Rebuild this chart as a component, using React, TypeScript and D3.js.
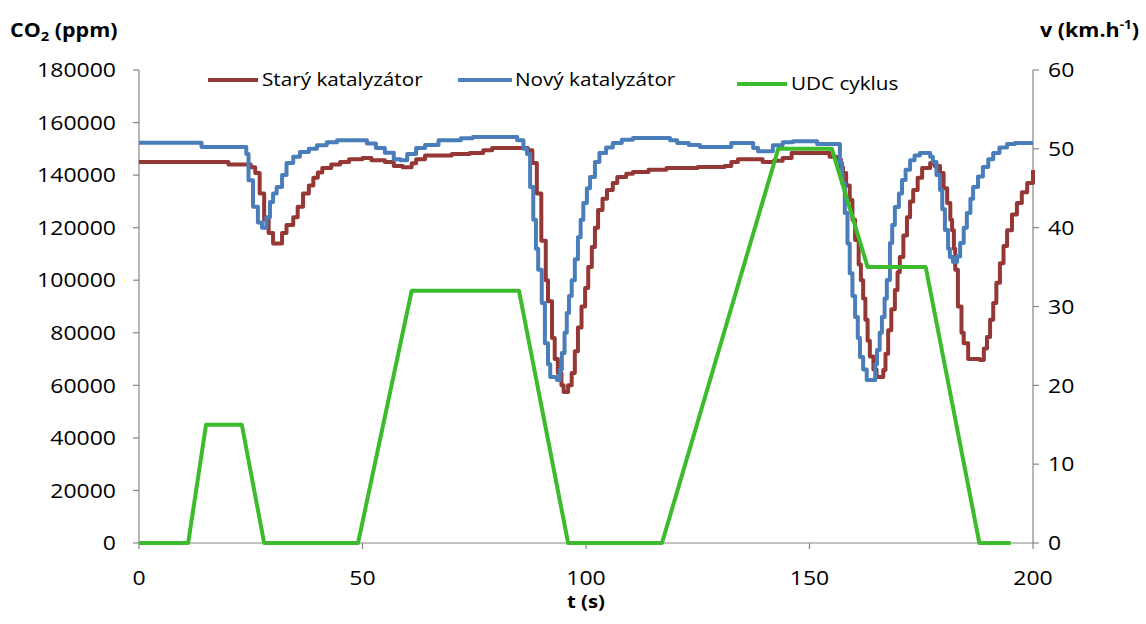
import React from "react";
import * as d3 from "d3";

// Starý katalyzátor (old catalyst), CO2 ppm
const oldT = [0, 20, 25, 26, 27, 28, 29, 30, 32, 33, 34.5, 35.5, 36.7, 38, 39, 40, 41, 43, 45, 47, 50, 52, 55, 57, 59, 61, 62, 64, 70, 74, 77, 79, 86, 87, 88, 89, 90, 91, 91.5, 92.4, 93, 93.7, 94.5, 95, 96, 96.8, 97.5, 98.2, 99, 99.8, 100.5, 101.3, 102, 102.7, 103.7, 104.7, 106, 107, 109, 110.5, 114, 118, 125, 131, 132.5, 134, 138.5, 139.5, 142, 144, 146, 152.5, 154.5, 156, 157, 157.5, 158.2, 159, 159.6, 160.2, 161, 161.5, 162, 162.5, 163, 163.5, 164.3, 165, 166.5, 167, 167.6, 168.3, 169.1, 169.7, 170.2, 171, 171.8, 172.5, 173.2, 174.2, 175.2, 177, 178, 179.2, 180, 180.8, 181.5, 181.9, 182.3, 182.6, 183.2, 184, 184.5, 185.5, 188.1, 189, 189.7, 190.4, 191.1, 191.8, 192.6, 193.4, 194.2, 195.3, 196.4, 197.5, 198.7, 200];
const oldV = [145000, 144000, 143000, 140800, 133000, 123000, 118000, 114000, 118000, 121000, 124000, 128000, 133000, 136000, 139000, 141000, 142700, 144000, 145000, 146000, 146500, 145700, 145000, 143500, 143000, 144500, 146000, 147500, 148000, 148400, 149500, 150300, 150300, 149500, 144600, 133000, 115000, 100000, 92000, 78000, 70000, 64700, 60000, 57500, 60000, 64700, 73000, 82000, 90000, 97000, 105000, 112600, 120000, 126700, 131000, 134300, 137000, 139300, 140500, 141200, 142000, 142700, 143100, 143500, 145000, 146000, 146000, 145000, 145500, 146500, 148400, 148400, 147000, 146000, 143000, 140800, 136000, 130500, 123000, 115300, 106000, 100000, 93000, 85000, 77000, 71000, 66000, 63200, 65800, 72000, 81000, 89000, 96300, 103000, 108800, 117000, 124000, 130000, 134300, 139000, 142700, 144600, 143500, 140800, 135000, 129400, 123000, 119000, 112000, 104000, 90000, 80000, 76000, 70000, 69600, 74000, 78400, 85000, 91300, 99000, 106500, 113000, 119000, 125000, 129400, 133500, 137000, 141900];

// Nový katalyzátor (new catalyst), CO2 ppm
const newT = [0, 14, 23.5, 24, 24.5, 25.5, 26.6, 27.5, 28.5, 29.3, 30, 30.8, 32, 33, 34.5, 36, 38, 39.8, 42, 44.3, 50, 51, 53, 55, 57, 58.5, 60, 62, 64, 67, 72, 74.7, 80, 84.6, 86, 86.8, 87.5, 88.2, 88.8, 89.3, 90.1, 90.8, 91.5, 92, 93.5, 94.2, 94.6, 95.2, 95.7, 96.2, 96.8, 97.5, 98.2, 98.8, 99.4, 100.2, 100.9, 102, 103, 104.5, 106, 108, 110.5, 116, 118.8, 120.4, 123, 125.5, 131, 132.5, 135.5, 137.4, 138.5, 140.5, 141.8, 144, 146.3, 150, 151.7, 156.4, 156.8, 157.3, 157.9, 158.5, 159, 159.6, 160.2, 160.8, 161.3, 162, 162.8, 164.2, 164.7, 165.1, 165.7, 166.2, 166.8, 167.3, 168, 168.5, 169.1, 170, 170.7, 171.5, 172.5, 173.5, 174.7, 176, 177, 177.6, 178.4, 179.2, 179.7, 180.3, 181, 181.4, 182.1, 183, 183.7, 184.5, 185.2, 186, 186.6, 187.7, 188.8, 190, 191.1, 192.5, 194.2, 196, 200];
const newV = [152300, 150700, 150700, 148000, 138000, 128000, 122000, 120000, 124000, 129800, 133000, 135500, 140000, 144600, 147000, 148800, 150000, 151400, 152500, 153300, 153300, 152000, 150300, 148500, 146000, 145700, 148000, 150300, 151500, 153300, 154000, 154500, 154500, 153300, 150000, 148000, 135500, 123000, 112000, 104000, 91300, 76000, 68000, 63200, 62000, 66000, 72300, 80000, 87500, 94000, 100000, 108000, 116400, 123000, 129400, 135000, 139300, 145000, 148400, 150500, 152200, 153500, 154100, 154100, 153300, 152200, 151500, 150700, 150700, 152200, 152200, 150300, 149100, 149100, 151400, 152500, 152900, 152900, 151800, 151800, 144600, 137000, 125600, 114000, 102700, 94000, 86000, 78000, 70800, 66000, 62000, 62000, 68000, 73400, 80000, 86000, 93000, 100100, 114200, 121000, 127900, 133000, 138100, 142000, 145700, 147500, 148400, 148400, 147000, 145000, 140000, 134300, 127000, 119100, 112000, 108800, 106900, 109000, 114200, 120000, 125600, 131000, 135500, 139500, 143100, 146000, 148400, 150500, 151800, 152200, 152200];

// UDC cyklus, speed km/h
const udcT = [0, 11, 15, 23, 28, 49, 61, 85, 96, 117, 143, 155, 163, 176, 188, 195];
const udcV = [0, 0, 15, 15, 0, 0, 32, 32, 0, 0, 50, 50, 35, 35, 0, 0];

const xTicks = [0, 50, 100, 150, 200];
const yLeftTicks = [0, 20000, 40000, 60000, 80000, 100000, 120000, 140000, 160000, 180000];
const yRightTicks = [0, 10, 20, 30, 40, 50, 60];

const legendItems = ["Starý katalyzátor", "Nový katalyzátor", "UDC cyklus"];

const RED = "#953735";
const BLUE = "#4a7ebb";
const GREEN = "#3cbc2c";
const AXIS = "#868686";
const FONT = "'Open Sans', sans-serif";

function SText(props: {
  x: number;
  y: number;
  sx: number;
  size: number;
  anchor?: string;
  bold?: boolean;
  dy?: string;
  children: React.ReactNode;
}) {
  return (
    <text
      transform={`translate(${props.x},${props.y}) scale(${props.sx},1)`}
      dy={props.dy || "0.36em"}
      textAnchor={props.anchor || "start"}
      fontSize={props.size}
      fontWeight={props.bold ? "bold" : "normal"}
      fill="#000"
    >
      {props.children}
    </text>
  );
}

export default function App() {
  const x = d3.scaleLinear().domain([0, 200]).range([139, 1033]);
  const yL = d3.scaleLinear().domain([0, 180000]).range([543, 70]);
  const yR = d3.scaleLinear().domain([0, 60]).range([543, 70]);

  const oldData = oldT.map((t, i) => [t, oldV[i]] as [number, number]);
  const newData = newT.map((t, i) => [t, newV[i]] as [number, number]);
  const udcData = udcT.map((t, i) => [t, udcV[i]] as [number, number]);

  const stepLine = d3
    .line<[number, number]>()
    .x((d) => x(d[0]))
    .y((d) => yL(d[1]))
    .curve(d3.curveStepAfter);
  const udcLine = d3
    .line<[number, number]>()
    .x((d) => x(d[0]))
    .y((d) => yR(d[1]));

  const legend = [
    { label: legendItems[0], color: RED, x1: 208, x2: 258, tx: 262, y: 80 },
    { label: legendItems[1], color: BLUE, x1: 458, x2: 512, tx: 515, y: 80 },
    { label: legendItems[2], color: GREEN, x1: 737, x2: 787, tx: 791, y: 84 },
  ];

  const TS = 1.15;

  return (
    <svg
      width={1146}
      height={624}
      style={{ position: "absolute", left: 0, top: 0, background: "#fff" }}
      fontFamily={FONT}
    >
      <rect width={1146} height={624} fill="#fff" />
      {/* axes */}
      <line x1={139} x2={139} y1={70} y2={543} stroke={AXIS} strokeWidth={1.2} />
      <line x1={1033} x2={1033} y1={70} y2={543} stroke={AXIS} strokeWidth={1.2} />
      <line x1={139} x2={1033} y1={543} y2={543} stroke={AXIS} strokeWidth={1.2} />
      {yLeftTicks.map((v) => (
        <g key={"yl" + v}>
          <line x1={133} x2={139} y1={yL(v)} y2={yL(v)} stroke={AXIS} strokeWidth={1.2} />
          <SText x={116} y={yL(v)} sx={TS} size={20} anchor="end">
            {v}
          </SText>
        </g>
      ))}
      {yRightTicks.map((v) => (
        <g key={"yr" + v}>
          <line x1={1033} x2={1039} y1={yR(v)} y2={yR(v)} stroke={AXIS} strokeWidth={1.2} />
          <SText x={1048} y={yR(v)} sx={TS} size={20}>
            {v}
          </SText>
        </g>
      ))}
      {xTicks.map((v) => (
        <g key={"x" + v}>
          <line x1={x(v)} x2={x(v)} y1={543} y2={549} stroke={AXIS} strokeWidth={1.2} />
          <SText x={x(v)} y={578} sx={TS} size={20} anchor="middle">
            {v}
          </SText>
        </g>
      ))}
      {/* axis titles */}
      <SText x={10} y={37} sx={1.13} size={19} bold dy="0">
        CO<tspan fontSize={13} dy={4}>2</tspan>
        <tspan dy={-4}> (ppm)</tspan>
      </SText>
      <SText x={1040} y={37} sx={1.13} size={19} bold dy="0">
        v (km.h<tspan fontSize={12} dy={-8}>-1</tspan>
        <tspan dy={8}>)</tspan>
      </SText>
      <SText x={586} y={608} sx={1.13} size={18} bold anchor="middle" dy="0">
        t (s)
      </SText>
      {/* series */}
      <path d={stepLine(oldData) || ""} fill="none" stroke={RED} strokeWidth={4} strokeLinejoin="round" />
      <path d={stepLine(newData) || ""} fill="none" stroke={BLUE} strokeWidth={4} strokeLinejoin="round" />
      <path d={udcLine(udcData) || ""} fill="none" stroke={GREEN} strokeWidth={4} strokeLinejoin="round" />
      {/* legend */}
      {legend.map((l) => (
        <g key={l.label}>
          <line x1={l.x1} x2={l.x2} y1={l.y} y2={l.y} stroke={l.color} strokeWidth={4} />
          <SText x={l.tx} y={l.y} sx={1.15} size={18}>
            {l.label}
          </SText>
        </g>
      ))}
    </svg>
  );
}
